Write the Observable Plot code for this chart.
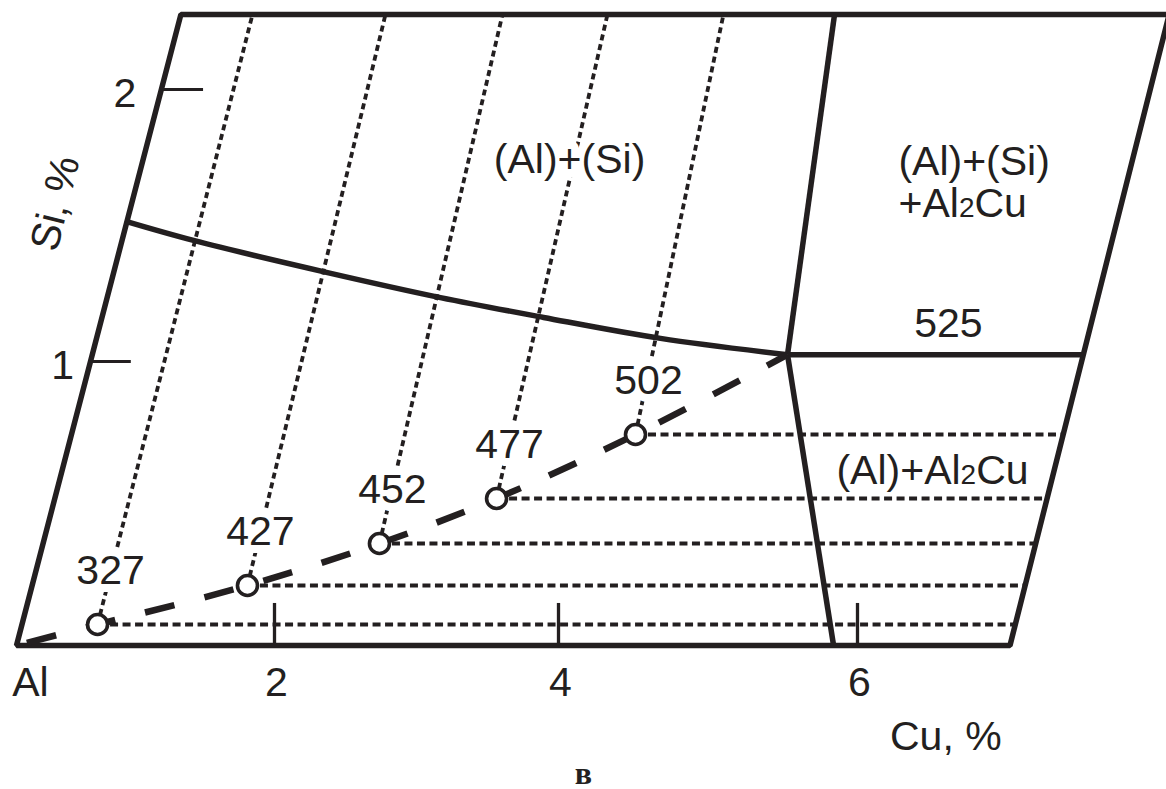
<!DOCTYPE html>
<html><head><meta charset="utf-8">
<script src="https://cdn.jsdelivr.net/npm/d3@7"></script>
<script src="https://cdn.jsdelivr.net/npm/@observablehq/plot@0.6"></script>
<style>body{margin:0;background:#fff} svg{display:block}</style>
</head><body><div id="chart"></div>
<script>
// Oblique (Cu %, Si %) frame of the Al–Cu–Si projection
const SKEW = 0.56;        // shift of the oblique Si axis, in Cu-% per Si-%
const SI_TOP = 2.276;     // Si % at the upper edge of the frame

// axis ticks
const cuTicks = [2, 4, 6];
const siTicks = [1, 2];

// frame corners (Cu %, Si %)
const frameCu = [6.81, 0, 0, 7.02, 6.81];
const frameSi = [SI_TOP, SI_TOP, 0, 0, SI_TOP];

// boundary (Al)/(Si): from the Si axis to the ternary point E
const liqCu = [0, 0.563, 1.630, 2.477, 3.244, 4.075, 4.958];
const liqSi = [1.515, 1.445, 1.327, 1.235, 1.162, 1.085, 1.025];

// boundaries leaving E
const upperCu = [4.958, 4.572], upperSi = [1.025, SI_TOP];
const lowerCu = [4.958, 5.84],  lowerSi = [1.025, 0];
const l525Cu  = [4.958, 6.938], l525Si  = [1.025, 1.025];

// eutectic valley Al -> E
const valleyCu = [0, 0.587, 1.672, 2.538, 3.274, 4.099, 4.958];
const valleySi = [0, 0.0739, 0.2113, 0.3592, 0.5176, 0.7430, 1.025];

// isotherm points on the valley
const temps = [327, 427, 452, 477, 502];
const ptCu  = [0.587, 1.672, 2.538, 3.274, 4.099];
const ptSi  = [0.0739, 0.2113, 0.3592, 0.5176, 0.7430];
const topCu = [0.555, 1.507, 2.331, 3.053, 3.829];   // dotted isotherm meets upper edge

// right edge of the frame
const edgeCu = [7.02, 6.81], edgeSi = [0, SI_TOP];

// field labels
const haloText = ["(Al)+(Si)", "525"];
const haloCu   = [3.098, 5.970];
const haloSi   = [1.743, 1.140];
const plainText = ["(Al)+Al2Cu"];
const plainCu   = [6.157];
const plainSi   = [0.616];
const leftText = ["(Al)+(Si)", "+Al2Cu"];
const leftCu   = [5.302, 5.389];
const leftSi   = [1.735, 1.581];

const INK = "#231f20";
const FONT = "Liberation Sans, Arial, Helvetica, sans-serif";
const FS = 41;
const X = (cu, si) => cu + SKEW * si;
const zip = (a, b) => a.map((v, i) => ({cu: v, si: b[i]}));
const lab = (t, a, b) => zip(a, b).map((d, i) => ({...d, s: t[i]}));
const edgeAt = si => edgeCu[0] + (edgeCu[1] - edgeCu[0]) * (si - edgeSi[0]) / (edgeSi[1] - edgeSi[0]);
const pts = temps.map((t, i) => ({t, cu: ptCu[i], si: ptSi[i], top: topCu[i]}));
const px = d => X(d.cu, d.si), py = d => d.si;

const thick = {x: px, y: py, stroke: INK, strokeWidth: 5.5, strokeLinejoin: "miter", strokeLinecap: "butt"};
const txt = {fontSize: FS, fontFamily: FONT, fill: INK};

const chart = Plot.plot({
  width: 1166, height: 789, margin: 0,
  x: {type: "linear", domain: [0, 2, 4, 6], range: [16, 274, 558, 857], axis: null},
  y: {type: "linear", domain: [0, 1, 2], range: [645, 361, 89], axis: null},
  marks: [
    // dotted isotherms up to the upper edge
    Plot.link(pts, {x1: px, y1: py, x2: d => X(d.top, SI_TOP), y2: () => SI_TOP,
      stroke: INK, strokeWidth: 3.8, strokeDasharray: "6,4", strokeLinecap: "butt"}),
    // horizontal dashed lines to the right edge
    Plot.link(pts, {x1: px, y1: py, x2: d => X(edgeAt(d.si), d.si), y2: py,
      stroke: INK, strokeWidth: 4, strokeDasharray: "8,4.5", strokeLinecap: "butt"}),
    // frame and phase boundaries
    Plot.line(zip(frameCu, frameSi), thick),
    Plot.line(zip(liqCu, liqSi), {...thick, curve: "catmull-rom"}),
    Plot.line(zip(upperCu, upperSi), thick),
    Plot.line(zip(lowerCu, lowerSi), thick),
    Plot.line(zip(l525Cu, l525Si), thick),
    // ticks
    Plot.ruleX(cuTicks, {x: d => d, y1: () => 0, y2: () => 0.148, stroke: INK, strokeWidth: 3.3}),
    Plot.ruleY(siTicks, {y: d => d, x1: d => X(0, d), x2: d => X(0, d) + 0.33, stroke: INK, strokeWidth: 3.1}),
    // eutectic valley
    Plot.line(zip(valleyCu, valleySi), {x: px, y: py, curve: "catmull-rom", stroke: INK, strokeWidth: 6.5,
      strokeDasharray: "30,31", strokeDashoffset: 50, strokeLinecap: "butt"}),
    Plot.dot(pts, {x: px, y: py, r: 10, fill: "white", stroke: INK, strokeWidth: 3.6}),
    // temperature labels
    Plot.text(pts, {x: px, y: py, text: d => String(d.t), dx: 13, dy: -54, ...txt, stroke: "white", strokeWidth: 16}),
    // field labels
    Plot.text(lab(haloText, haloCu, haloSi), {x: px, y: py, text: "s", ...txt, stroke: "white", strokeWidth: 16}),
    Plot.text(lab(plainText, plainCu, plainSi), {x: px, y: py, text: "s", ...txt}),
    Plot.text(lab(leftText, leftCu, leftSi), {x: px, y: py, text: "s", ...txt, textAnchor: "start"}),
    // axis labels
    Plot.text(cuTicks, {x: d => d, y: () => 0, text: d => String(d), dx: 2, dy: 37, ...txt}),
    Plot.text(["Al"], {x: () => 0, y: () => 0, text: d => d, dx: 14, dy: 37, ...txt}),
    Plot.text(siTicks.slice(0, 1), {x: d => X(0, d), y: d => d, text: d => String(d), dx: -26, dy: 4, ...txt}),
    Plot.text(siTicks.slice(1), {x: d => X(0, d), y: d => d, text: d => String(d), dx: -36, dy: 4, ...txt}),
    Plot.text(["Cu, %"], {x: () => X(6.77, -0.32), y: () => -0.32, text: d => d, ...txt}),
    Plot.text(["Si, %"], {x: () => X(-0.583, 1.581), y: () => 1.581, text: d => d, rotate: -76, ...txt}),
    // panel caption
    Plot.text(["в"], {frameAnchor: "bottom", lineAnchor: "bottom", dy: -6, text: d => d, fontSize: 32,
      fontWeight: "bold", fontFamily: "Liberation Serif, Times New Roman, serif", fill: INK})
  ]
});

// smaller "2" in Al2Cu
chart.querySelectorAll("text, tspan").forEach(el => {
  if (el.childNodes.length === 1 && el.firstChild.nodeType === 3 && el.textContent.includes("Al2Cu")) {
    const s = el.textContent, i = s.indexOf("Al2Cu") + 2;
    el.textContent = "";
    const t = document.createElementNS("http://www.w3.org/2000/svg", "tspan");
    t.setAttribute("font-size", "28");
    t.textContent = "2";
    el.append(document.createTextNode(s.slice(0, i)), t, document.createTextNode(s.slice(i + 1)));
  }
});
document.getElementById("chart").append(chart);
</script>
</body></html>
